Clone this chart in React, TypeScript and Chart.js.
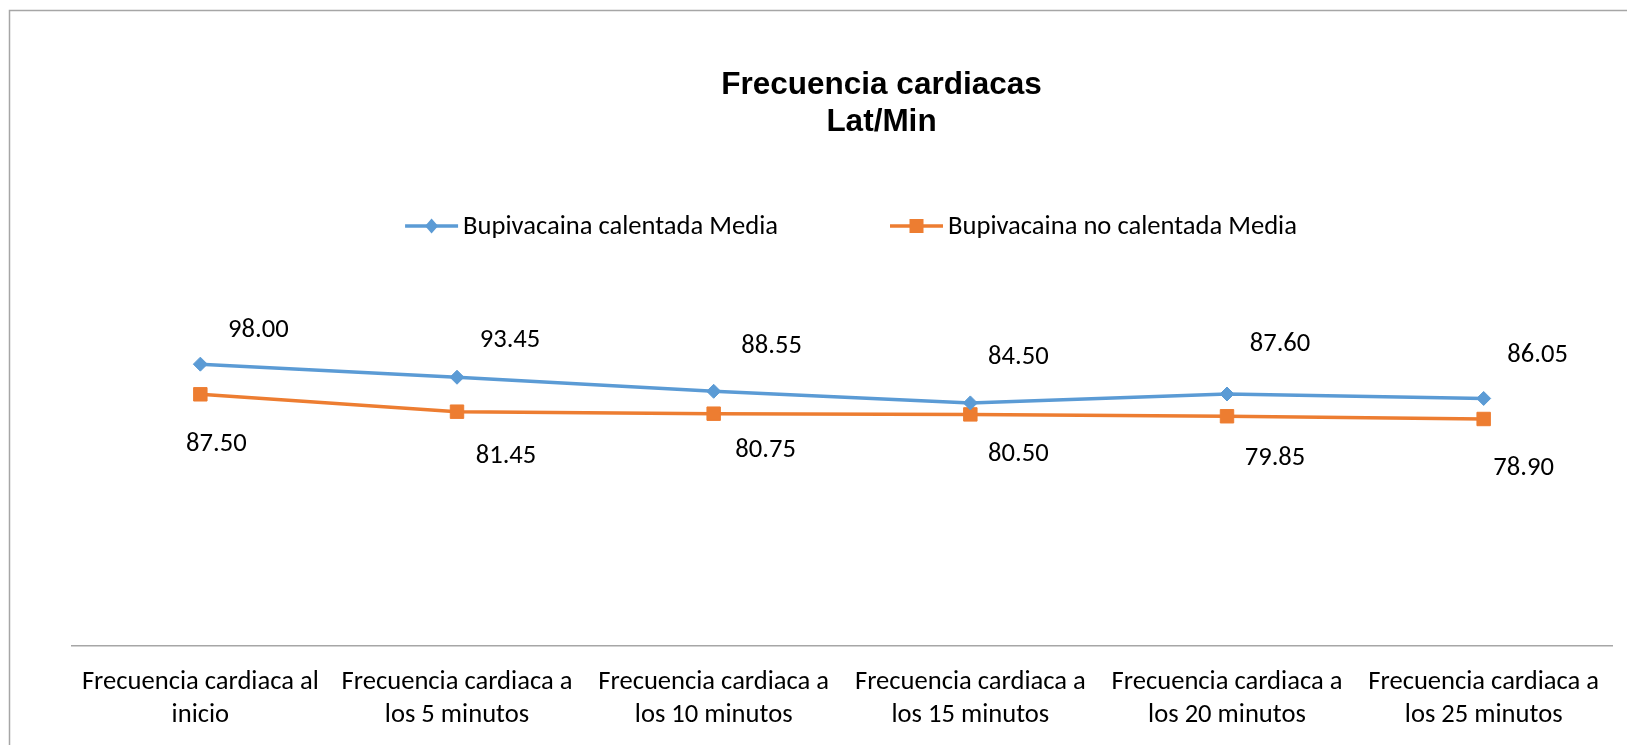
import React, { useEffect, useRef } from 'react';
import { Chart, registerables } from 'chart.js';

Chart.register(...registerables);

// ---- data ----
const categories: string[][] = [
  ['Frecuencia cardiaca al', 'inicio'],
  ['Frecuencia cardiaca a', 'los 5 minutos'],
  ['Frecuencia cardiaca a', 'los 10 minutos'],
  ['Frecuencia cardiaca a', 'los 15 minutos'],
  ['Frecuencia cardiaca a', 'los 20 minutos'],
  ['Frecuencia cardiaca a', 'los 25 minutos'],
];
const calentadaMedia = [98.0, 93.45, 88.55, 84.5, 87.6, 86.05];
const noCalentadaMedia = [87.5, 81.45, 80.75, 80.5, 79.85, 78.9];
const seriesNames = ['Bupivacaina calentada Media', 'Bupivacaina no calentada Media'];
const titleLines = ['Frecuencia cardiacas', 'Lat/Min'];
const yMin = 0;
const yMax = 120;

// data-label nudges (px) from each point, as placed in the reference
const calentadaLabelNudge = [[58, -35], [53, -38], [58, -46], [48, -47], [53, -51], [54, -44]];
const noCalentadaLabelNudge = [[16, 49], [49, 44], [52, 36], [48, 39], [48, 41], [40, 48]];

// ---- styles ----
const BLUE = '#5B9BD5';
const ORANGE = '#ED7D31';
const BODY_FONT = 'Calibri, Carlito, Lato, sans-serif';
const TITLE_FONT = '"Liberation Sans", Arial, sans-serif';
const W = 1627;
const H = 745;

function fitSize(family: string, weight: string, text: string, target: number) {
  const c = document.createElement('canvas').getContext('2d')!;
  c.font = `${weight} 100px ${family}`;
  return (100 * target) / c.measureText(text).width;
}

export default function App() {
  const ref = useRef<HTMLCanvasElement | null>(null);

  useEffect(() => {
    if (!ref.current) return;
    const bodySize = fitSize(BODY_FONT, 'normal', seriesNames[0], 315);
    const titleSize = 31.5;
    const nudges = [calentadaLabelNudge, noCalentadaLabelNudge];
    const colors = [BLUE, ORANGE];

    const decor = {
      id: 'decor',
      beforeDraw(chart: any) {
        const ctx = chart.ctx;
        ctx.save();
        ctx.fillStyle = '#ffffff';
        ctx.fillRect(0, 0, chart.width, chart.height);
        ctx.strokeStyle = '#a6a6a6';
        ctx.lineWidth = 1.5;
        ctx.beginPath();
        ctx.moveTo(9.5, chart.height);
        ctx.lineTo(9.5, 10.5);
        ctx.lineTo(chart.width, 10.5);
        ctx.stroke();

        // title
        ctx.fillStyle = '#000';
        ctx.font = `bold ${titleSize}px ${TITLE_FONT}`;
        ctx.textAlign = 'center';
        ctx.textBaseline = 'alphabetic';
        const capH = titleSize * 0.716;
        titleLines.forEach((t, i) => {
          ctx.fillText(t, 881.5, 83 + i * 36.5 + capH / 2);
        });

        // legend
        ctx.font = `${bodySize}px ${BODY_FONT}`;
        ctx.textAlign = 'left';
        ctx.textBaseline = 'middle';
        const lineLen = 53;
        const textGap = 5;
        const itemGap = 112;
        const widths = seriesNames.map((n) => lineLen + textGap + ctx.measureText(n).width);
        const total = widths[0] + itemGap + widths[1];
        let x = 851 - total / 2;
        const ly = 226;
        seriesNames.forEach((n, i) => {
          ctx.strokeStyle = colors[i];
          ctx.lineWidth = 3.5;
          ctx.beginPath();
          ctx.moveTo(x, ly);
          ctx.lineTo(x + lineLen, ly);
          ctx.stroke();
          const cx = x + lineLen / 2;
          ctx.fillStyle = colors[i];
          ctx.beginPath();
          if (i === 0) {
            ctx.moveTo(cx, ly - 7.5);
            ctx.lineTo(cx + 6.5, ly);
            ctx.lineTo(cx, ly + 7.5);
            ctx.lineTo(cx - 6.5, ly);
            ctx.closePath();
          } else {
            ctx.rect(cx - 7, ly - 7, 14, 14);
          }
          ctx.fill();
          ctx.fillStyle = '#000';
          ctx.fillText(n, x + lineLen + textGap, ly + 1);
          x += widths[i] + itemGap;
        });
        ctx.restore();
      },
      afterDatasetsDraw(chart: any) {
        const ctx = chart.ctx;
        ctx.save();
        ctx.font = `${bodySize}px ${BODY_FONT}`;
        ctx.fillStyle = '#000';
        ctx.textAlign = 'center';
        ctx.textBaseline = 'middle';
        chart.data.datasets.forEach((ds: any, di: number) => {
          const meta = chart.getDatasetMeta(di);
          meta.data.forEach((pt: any, i: number) => {
            const v = ds.data[i] as number;
            const [dx, dy] = nudges[di][i];
            ctx.fillText(v.toFixed(2), pt.x + dx, pt.y + dy + 1);
          });
        });
        ctx.restore();
      },
    };

    const chart = new Chart(ref.current, {
      type: 'line',
      data: {
        labels: categories,
        datasets: [
          {
            label: seriesNames[0],
            data: calentadaMedia,
            borderColor: BLUE,
            backgroundColor: BLUE,
            borderWidth: 3.5,
            pointStyle: 'rectRot',
            pointRadius: 7,
            pointHoverRadius: 7,
            pointBorderWidth: 1,
            tension: 0,
          },
          {
            label: seriesNames[1],
            data: noCalentadaMedia,
            borderColor: ORANGE,
            backgroundColor: ORANGE,
            borderWidth: 3.5,
            pointStyle: 'rect',
            pointRadius: 9.5,
            pointHoverRadius: 9.5,
            pointBorderWidth: 1,
            tension: 0,
          },
        ],
      },
      options: {
        responsive: false,
        animation: false,
        events: [],
        layout: { padding: { left: 72, right: 15, top: 301, bottom: 0 } },
        plugins: {
          legend: { display: false },
          title: { display: false },
          tooltip: { enabled: false },
        },
        scales: {
          x: {
            type: 'category',
            offset: true,
            grid: { display: false, drawTicks: false },
            border: { display: true, color: '#a6a6a6', width: 1.5 },
            ticks: {
              color: '#000',
              font: { family: BODY_FONT, size: bodySize, lineHeight: 33 / bodySize },
              padding: 20,
              maxRotation: 0,
              minRotation: 0,
              autoSkip: false,
            },
            afterFit(scale: any) {
              scale.height = 99.5;
            },
          },
          y: { display: false, min: yMin, max: yMax },
        },
      },
      plugins: [decor],
    });
    return () => chart.destroy();
  }, []);

  return (
    <div style={{ position: 'absolute', left: 0, top: 0, width: W, height: H }}>
      <canvas ref={ref} width={W} height={H} style={{ display: 'block', width: W, height: H }} />
    </div>
  );
}
